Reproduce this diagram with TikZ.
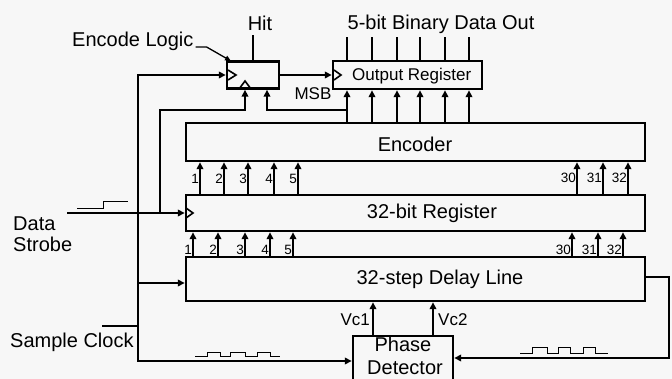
\documentclass[tikz,border=0pt]{standalone}
\usepackage{fontspec}
\setmainfont{Liberation Sans}
\usetikzlibrary{arrows.meta,calc}
\begin{document}
\begin{tikzpicture}[x=1pt,y=-1pt,
  box/.style={draw, line width=2.4pt, inner sep=0pt, rectangle},
  wire/.style={line width=2.1pt},
  arr/.style={wire, -{Triangle[length=7pt,width=6.5pt]}},
  wave/.style={line width=1pt},
  clk/.style={line width=1.6pt},
  big/.style={font=\fontsize{20}{22}\selectfont, inner sep=0pt},
  mid/.style={font=\fontsize{17}{19}\selectfont, inner sep=0pt},
  num/.style={font=\fontsize{13.5}{14}\selectfont, inner sep=0pt}]
\fill[black!3] (0,0) rectangle (672,379);
\useasboundingbox (0,0) rectangle (672,379);

% boxes
\node[box, minimum width=459pt, minimum height=38pt] (enc) at (415.5,142) {};
\node[box, minimum width=459pt, minimum height=36pt] (reg) at (415.5,213) {};
\node[box, minimum width=459pt, minimum height=44pt] (dl) at (415.5,279) {};
\node[box, minimum width=52pt, minimum height=27pt] (el) at (253,75) {};
\node[box, minimum width=149pt, minimum height=28pt] (outr) at (407.5,75) {};
\node[box, minimum width=100pt, minimum height=50pt] (pd) at (403,361) {};

% box texts
\node[big, anchor=base] (enct) at (415,152) {Encoder};
\node[big, anchor=base] (regt) at (432,219) {32-bit Register};
\node[big, anchor=base] (dlt) at (440,285) {32-step Delay Line};
\node[mid, anchor=base west] (outt) at (352,81) {Output Register};
\node[big, anchor=base] (pdt1) at (403,352) {Phase};
\node[big, anchor=base] (pdt2) at (405,374) {Detector};

% labels
\node[big, anchor=base] (hit) at (260,31) {Hit};
\node[big, anchor=base] (bdo) at (441,30) {5-bit Binary Data Out};
\node[big, anchor=base west] (elt) at (72,47) {Encode Logic};
\node[mid, anchor=base] (msb) at (313,100) {MSB};
\node[big, anchor=base west] (dat) at (13,231) {Data};
\node[big, anchor=base west] (stb) at (13,252) {Strobe};
\node[big, anchor=base west] (scl) at (10,347) {Sample Clock};
\node[mid, anchor=base east] (vc1) at (370,326) {Vc1};
\node[mid, anchor=base west] (vc2) at (438,326) {Vc2};

% leader for Encode Logic
\draw[line width=1.3pt, -{Triangle[length=6pt,width=5pt]}] (elt.base east) ++(2,0) -- ++(11,0) -- (231,61);

% clock symbols
\draw[clk] (228,70) -- (236,75) -- (228,80);
\draw[clk] (239,89) -- (245,81) -- (251,89);
\draw[clk] (334,70) -- (341,75) -- (334,80);
\draw[clk] (186,208) -- (193,213) -- (186,218);

% free ends and junctions
\coordinate (scin) at (102,326);
\coordinate (j1) at (138,326);
\coordinate (dsin) at (67,213);
\coordinate (j2) at (160,213);

% sample clock distribution
\draw[wire] (scin) -- (j1);
\draw[arr] (j1) |- (el.west);
\draw[arr] (j1) |- (pd.west);
\draw[arr] (138,283) -- (dl.west |- 0,283);

% data strobe
\draw[arr] (dsin) -- (reg.west);
\draw[arr] (j2) |- (245,110) -- ([xshift=-8pt]el.south);

% MSB
\draw[arr] (347,110) -| ([xshift=14pt]el.south);

% encode logic to output register, Hit
\draw[arr] (el.east) -- (outr.west);
\draw[wire] (el.north) -- ++(0,-25);

% output register inputs and outputs
\foreach \x in {347,372,397,420,445,469} {
  \draw[arr] (\x,0 |- enc.north) -- (\x,0 |- outr.south);
  \draw[wire] (\x,0 |- outr.north) -- (\x,37);
}

% register -> encoder
\foreach \x/\n in {200/1,224/2,248/3,274/4,298/5} {
  \draw[arr] (\x,0 |- reg.north) -- (\x,0 |- enc.south);
  \node[num, anchor=base east] at (\x-1,184) {\n};
}
\foreach \x/\n in {577/30,603/31,628/32} {
  \draw[arr] (\x,0 |- reg.north) -- (\x,0 |- enc.south);
  \node[num, anchor=base east] at (\x-1,183) {\n};
}
% delay line -> register
\foreach \x/\n in {193/1,218/2,245/3,270/4,293/5} {
  \draw[arr] (\x,0 |- dl.north) -- (\x,0 |- reg.south);
  \node[num, anchor=base east] at (\x-1,255) {\n};
}
\foreach \x/\n in {572/30,598/31,623/32} {
  \draw[arr] (\x,0 |- dl.north) -- (\x,0 |- reg.south);
  \node[num, anchor=base east] at (\x-1,255) {\n};
}

% Vc1, Vc2
\draw[arr] (373,0 |- pd.north) -- (373,0 |- dl.south);
\draw[arr] (433,0 |- pd.north) -- (433,0 |- dl.south);

% delay line return to phase detector
\draw[arr] (dl.east |- 0,277) -- (669,277) |- (pd.east |- 0,358);

% waveforms
\draw[wave] (77,209) -- (103,209) -- (103,202) -- (128,202);
\draw[wave] (195,356) -- (207,356) -- (207,352) -- (220,352) -- (220,356) -- (230,356) -- (230,352) -- (245,352) -- (245,356) -- (257,356) -- (257,352) -- (270,352) -- (270,356) -- (280,356);
\draw[wave] (520,353) -- (532,353) -- (532,347) -- (547,347) -- (547,353) -- (558,353) -- (558,347) -- (570,347) -- (570,353) -- (583,353) -- (583,347) -- (595,347) -- (595,353) -- (608,353);
\end{tikzpicture}
\end{document}
